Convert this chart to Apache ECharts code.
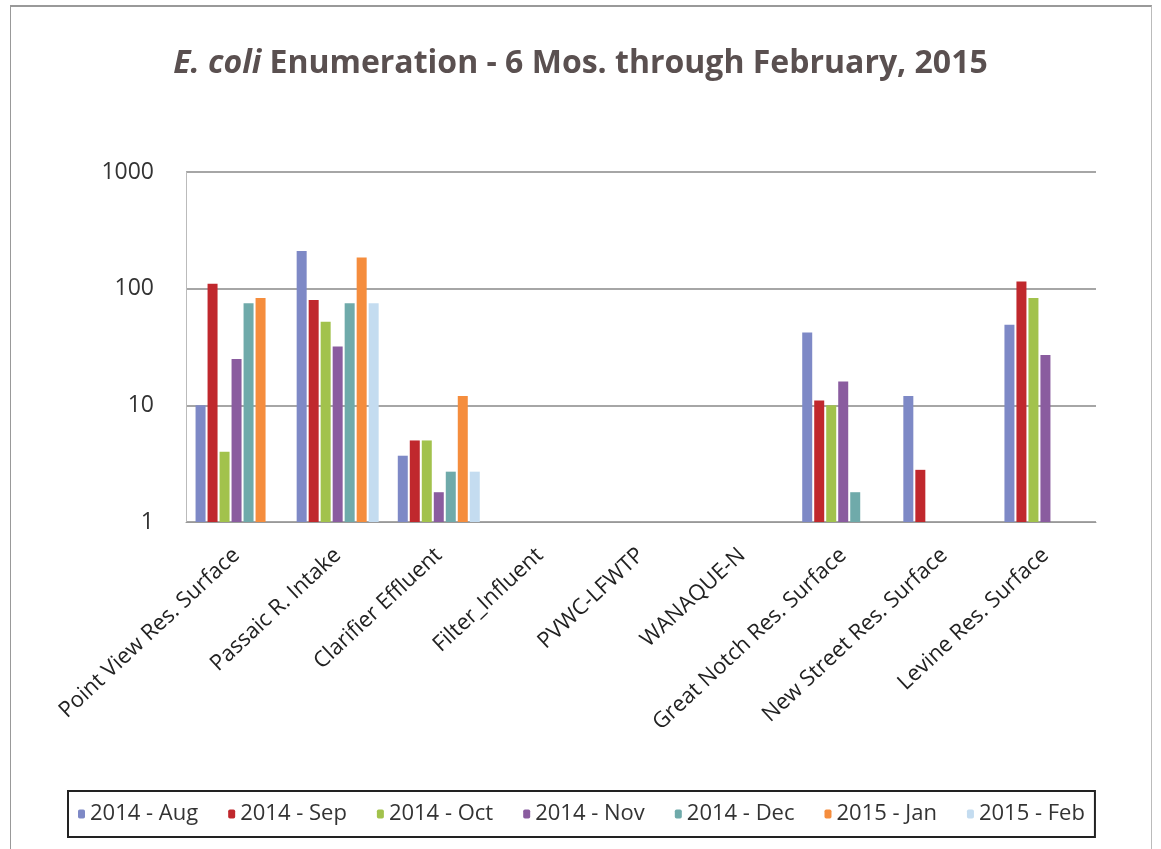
<!DOCTYPE html>
<html>
<head>
<meta charset="utf-8">
<script src="https://cdn.jsdelivr.net/npm/echarts@6/dist/echarts.min.js"></script>
<style>
  html, body { margin: 0; padding: 0; background: #fff; }
  #frame { position: absolute; left: 10px; top: 5px; width: 1140px; height: 850px; border-left: 1px solid #999; border-top: 2px solid #999; border-right: 1px solid #bbb; }
  #main { position: absolute; left: 0; top: 0; width: 1161px; height: 849px; }
</style>
</head>
<body>
<div id="frame"></div>
<div id="main"></div>
<script>
var sites = ['Point View Res. Surface', 'Passaic R. Intake', 'Clarifier Effluent', 'Filter_Influent',
             'PVWC-LFWTP', 'WANAQUE-N', 'Great Notch Res. Surface', 'New Street Res. Surface', 'Levine Res. Surface'];
var months = ['2014 - Aug', '2014 - Sep', '2014 - Oct', '2014 - Nov', '2014 - Dec', '2015 - Jan', '2015 - Feb'];
var colors = ['#7e89c6', '#c0282d', '#a2c24c', '#8a5c9f', '#6faaaa', '#f58d3d', '#c4dcf0'];

var aug = [10, 210, 3.7, null, null, null, 42, 12, 49];
var sep = [110, 80, 5, null, null, null, 11, 2.8, 115];
var oct = [4, 52, 5, null, null, null, 10, null, 83];
var nov = [25, 32, 1.8, null, null, null, 16, null, 27];
var dec = [75, 75, 2.7, null, null, null, 1.8, null, null];
var jan = [83, 185, 12, null, null, null, null, null, null];
var feb = [null, 75, 2.7, null, null, null, null, null, null];
var values = [aug, sep, oct, nov, dec, jan, feb];

var myChart = echarts.init(document.getElementById('main'));
var series = months.map(function (m, i) {
  return {
    name: m,
    type: 'bar',
    data: values[i],
    barWidth: 10,
    barGap: '20%',
    itemStyle: { color: colors[i] }
  };
});

option = {
  animation: false,
  title: {
    text: '{i|E. coli} Enumeration - 6 Mos. through February, 2015',
    left: 'center',
    top: 43,
    textStyle: {
      fontFamily: 'Open Sans',
      fontSize: 32,
      fontWeight: 'bold',
      color: '#5a5050',
      rich: {
        i: { fontFamily: 'Open Sans', fontSize: 32, fontWeight: 'bold', fontStyle: 'italic', color: '#5a5050' }
      }
    }
  },
  legend: {
    data: months,
    left: 68,
    bottom: 12,
    padding: [12, 10, 12, 10],
    itemGap: 30,
    itemWidth: 7,
    itemHeight: 9,
    borderColor: '#222',
    borderWidth: 2,
    textStyle: { fontFamily: 'Open Sans', fontSize: 22, color: '#333' }
  },
  grid: { left: 186, right: 65, top: 172, bottom: 327 },
  xAxis: {
    type: 'category',
    data: sites,
    axisLine: { lineStyle: { color: '#999' } },
    axisTick: { show: false },
    axisLabel: {
      rotate: 43,
      interval: 0,
      margin: 30,
      fontFamily: 'Open Sans',
      fontSize: 22,
      color: '#222'
    }
  },
  yAxis: {
    type: 'log',
    min: 1,
    max: 1000,
    logBase: 10,
    axisLine: { show: true, lineStyle: { color: '#bbb' } },
    axisTick: { show: false },
    axisLabel: {
      fontFamily: 'Open Sans',
      fontSize: 23,
      color: '#333',
      margin: 32,
      padding: [16, 0, 0, 0],
      formatter: function (v) { return String(v); }
    },
    splitLine: { lineStyle: { color: '#888', width: 1.5 } }
  },
  series: series
};
myChart.setOption(option);
</script>
</body>
</html>
